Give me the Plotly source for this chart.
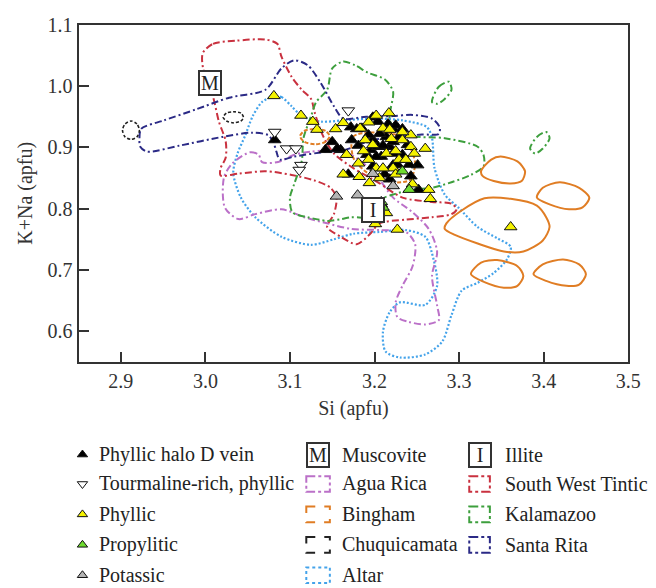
import plotly.graph_objects as go

# ---------------- data: field outlines (Si, K+Na) ----------------
agua_rica_si = [3.032, 3.053, 3.063, 3.067, 3.086, 3.105, 3.125, 3.144, 3.169, 3.187, 3.204, 3.222, 3.245, 3.264,
                3.274, 3.268, 3.274, 3.276, 3.260, 3.241, 3.227, 3.225, 3.233, 3.245, 3.248, 3.237, 3.206, 3.172,
                3.144, 3.117, 3.090, 3.059, 3.039, 3.023, 3.022]
agua_rica_kna = [0.874, 0.892, 0.888, 0.876, 0.876, 0.888, 0.893, 0.895, 0.890, 0.874, 0.851, 0.818, 0.794, 0.767,
                 0.730, 0.690, 0.642, 0.618, 0.611, 0.615, 0.623, 0.647, 0.674, 0.706, 0.742, 0.762, 0.765, 0.767,
                 0.776, 0.786, 0.799, 0.791, 0.783, 0.802, 0.851]

altar_si = [3.080, 3.090, 3.102, 3.114, 3.137, 3.163, 3.198, 3.233, 3.262, 3.268, 3.271, 3.283, 3.299, 3.322,
            3.346, 3.361, 3.357, 3.341, 3.322, 3.303, 3.291, 3.280, 3.260, 3.230, 3.213, 3.210, 3.218, 3.230,
            3.260, 3.274, 3.268, 3.260, 3.237, 3.206, 3.175, 3.152, 3.125, 3.090, 3.059, 3.042, 3.033, 3.038,
            3.047, 3.056, 3.067]
altar_kna = [0.983, 0.982, 0.967, 0.951, 0.942, 0.944, 0.947, 0.944, 0.933, 0.915, 0.866, 0.823, 0.802, 0.770,
             0.751, 0.738, 0.718, 0.695, 0.679, 0.666, 0.626, 0.583, 0.562, 0.557, 0.567, 0.599, 0.631, 0.647,
             0.643, 0.674, 0.727, 0.754, 0.765, 0.762, 0.759, 0.750, 0.741, 0.754, 0.786, 0.818, 0.858, 0.890,
             0.919, 0.951, 0.974]

sw_tintic_si = [2.997, 3.009, 3.036, 3.071, 3.085, 3.090, 3.102, 3.114, 3.125, 3.129, 3.138, 3.152, 3.175, 3.204,
                3.233, 3.268, 3.291, 3.297, 3.291, 3.268, 3.237, 3.206, 3.195, 3.179, 3.160, 3.144, 3.152, 3.155,
                3.148, 3.129, 3.102, 3.071, 3.039, 3.018, 3.018, 3.024, 3.024, 3.016, 3.009, 2.997]
sw_tintic_kna = [1.054, 1.069, 1.074, 1.076, 1.069, 1.048, 1.015, 0.994, 0.979, 0.958, 0.922, 0.890, 0.866, 0.843,
                 0.818, 0.811, 0.808, 0.799, 0.791, 0.786, 0.782, 0.776, 0.759, 0.742, 0.754, 0.770, 0.791, 0.818,
                 0.834, 0.846, 0.855, 0.861, 0.857, 0.854, 0.866, 0.883, 0.910, 0.942, 0.983, 1.031]

kalamazoo_si = [3.150, 3.163, 3.177, 3.192, 3.212, 3.222, 3.219, 3.218, 3.227, 3.245, 3.283, 3.322, 3.329, 3.329,
                3.314, 3.291, 3.268, 3.245, 3.222, 3.208, 3.204, 3.198, 3.172, 3.161, 3.144, 3.121, 3.103, 3.100,
                3.105, 3.114, 3.116, 3.125, 3.131, 3.144]
kalamazoo_kna = [1.029, 1.040, 1.034, 1.022, 1.011, 0.991, 0.962, 0.944, 0.927, 0.918, 0.915, 0.901, 0.887, 0.869,
                 0.855, 0.843, 0.834, 0.831, 0.823, 0.815, 0.797, 0.786, 0.786, 0.783, 0.780, 0.786, 0.794, 0.818,
                 0.840, 0.878, 0.915, 0.951, 0.974, 0.994]
kalamazoo_b_si = [3.268, 3.276, 3.288, 3.291, 3.283, 3.274]
kalamazoo_b_kna = [0.974, 0.999, 1.007, 0.994, 0.979, 0.971]
kalamazoo_c_si = [3.384, 3.392, 3.403, 3.407, 3.399, 3.390]
kalamazoo_c_kna = [0.898, 0.917, 0.925, 0.915, 0.898, 0.890]

santa_rita_si = [2.922, 2.924, 2.951, 2.989, 3.028, 3.071, 3.090, 3.105, 3.121, 3.136, 3.152, 3.163, 3.190, 3.222,
                 3.245, 3.268, 3.277, 3.276, 3.256, 3.233, 3.198, 3.163, 3.144, 3.105, 3.088, 3.084, 3.080, 3.074,
                 3.055, 3.020, 2.970, 2.931, 2.923]
santa_rita_kna = [0.912, 0.930, 0.944, 0.962, 0.981, 0.994, 1.029, 1.042, 1.034, 1.006, 0.967, 0.947, 0.950, 0.951,
                  0.953, 0.947, 0.933, 0.922, 0.921, 0.918, 0.912, 0.895, 0.893, 0.885, 0.880, 0.893, 0.910, 0.920,
                  0.924, 0.917, 0.903, 0.893, 0.901]

chuqui_a_si = [2.922, 2.919, 2.912, 2.905, 2.902, 2.905, 2.912, 2.919]
chuqui_a_kna = [0.928, 0.938, 0.943, 0.938, 0.928, 0.917, 0.913, 0.917]
chuqui_b_si = [3.045, 3.042, 3.033, 3.025, 3.021, 3.025, 3.033, 3.042]
chuqui_b_kna = [0.949, 0.956, 0.958, 0.956, 0.949, 0.943, 0.940, 0.943]

bingham_a_si = [3.147, 3.142, 3.130, 3.117, 3.112, 3.117, 3.130, 3.142]
bingham_a_kna = [0.918, 0.927, 0.930, 0.927, 0.918, 0.909, 0.905, 0.909]
bingham_b_si = [3.175, 3.222, 3.239, 3.248, 3.242, 3.222, 3.192, 3.175]
bingham_b_kna = [0.918, 0.922, 0.907, 0.874, 0.847, 0.843, 0.858, 0.883]
bingham_c_si = [3.326, 3.338, 3.349, 3.369, 3.378, 3.374, 3.361, 3.341, 3.328]
bingham_c_kna = [0.861, 0.880, 0.885, 0.877, 0.861, 0.845, 0.841, 0.845, 0.853]
bingham_d_si = [3.392, 3.399, 3.419, 3.442, 3.454, 3.446, 3.430, 3.407]
bingham_d_kna = [0.818, 0.834, 0.843, 0.834, 0.818, 0.802, 0.799, 0.807]
bingham_e_si = [3.285, 3.303, 3.330, 3.361, 3.392, 3.403, 3.407, 3.399, 3.376, 3.353, 3.322, 3.295, 3.283]
bingham_e_kna = [0.776, 0.797, 0.817, 0.816, 0.805, 0.786, 0.770, 0.748, 0.730, 0.730, 0.743, 0.757, 0.767]
bingham_f_si = [3.314, 3.326, 3.345, 3.369, 3.376, 3.369, 3.353, 3.330]
bingham_f_kna = [0.693, 0.712, 0.716, 0.706, 0.690, 0.674, 0.671, 0.680]
bingham_g_si = [3.388, 3.399, 3.423, 3.442, 3.450, 3.442, 3.427, 3.403]
bingham_g_kna = [0.693, 0.709, 0.717, 0.709, 0.693, 0.676, 0.674, 0.682]

# ---------------- data: analyses ----------------
halo_si = [3.198, 3.204, 3.172, 3.179, 3.185, 3.222, 3.214, 3.229, 3.173, 3.150, 3.160, 3.142, 3.181, 3.198,
           3.196, 3.204, 3.208, 3.218, 3.222, 3.233, 3.198, 3.212, 3.218, 3.222, 3.243, 3.251, 3.252, 3.169,
           3.193, 3.210, 3.082, 3.156, 3.216, 3.225, 3.233, 3.206, 3.222, 3.239, 3.191, 3.202, 3.227, 3.241]
halo_kna = [0.949, 0.942, 0.933, 0.930, 0.931, 0.930, 0.917, 0.917, 0.912, 0.909, 0.896, 0.896, 0.903, 0.912,
            0.896, 0.901, 0.885, 0.901, 0.890, 0.888, 0.869, 0.856, 0.848, 0.871, 0.853, 0.871, 0.831, 0.856,
            0.920, 0.903, 0.912, 0.898, 0.938, 0.936, 0.930, 0.922, 0.909, 0.904, 0.888, 0.885, 0.872, 0.872]

tourm_si = [3.169, 3.082, 3.096, 3.107, 3.113, 3.111]
tourm_kna = [0.960, 0.925, 0.898, 0.898, 0.871, 0.863]

phyllic_si = [3.113, 3.127, 3.132, 3.154, 3.163, 3.183, 3.202, 3.217, 3.210, 3.218, 3.189, 3.187, 3.167, 3.181,
              3.193, 3.202, 3.214, 3.225, 3.233, 3.243, 3.243, 3.247, 3.260, 3.229, 3.222, 3.225, 3.163, 3.182,
              3.210, 3.264, 3.266, 3.214, 3.208, 3.081, 3.201, 3.227, 3.361, 3.193, 3.233, 3.220, 3.198, 3.237,
              3.206, 3.194, 3.245]
phyllic_kna = [0.952, 0.942, 0.929, 0.930, 0.940, 0.931, 0.952, 0.956, 0.931, 0.929, 0.912, 0.894, 0.888, 0.874,
               0.880, 0.866, 0.890, 0.894, 0.912, 0.920, 0.901, 0.890, 0.898, 0.880, 0.866, 0.856, 0.856, 0.852,
               0.866, 0.831, 0.816, 0.793, 0.807, 0.984, 0.775, 0.766, 0.770, 0.941, 0.925, 0.914, 0.904, 0.880,
               0.850, 0.842, 0.840]

propylitic_si = [3.233, 3.208, 3.210, 3.241]
propylitic_kna = [0.861, 0.811, 0.802, 0.831]

potassic_si = [3.198, 3.222, 3.155, 3.180]
potassic_kna = [0.857, 0.837, 0.820, 0.822]

# reference minerals
ref_labels = ["M", "I"]
ref_si = [3.005, 3.198]
ref_kna = [1.005, 0.797]

# legend texts
sample_names = ["Phyllic halo D vein", "Tourmaline-rich, phyllic", "Phyllic", "Propylitic", "Potassic"]
field_names_a = ["Muscovite", "Agua Rica", "Bingham", "Chuquicamata", "Altar"]
field_names_b = ["Illite", "South West Tintic", "Kalamazoo", "Santa Rita"]

# ---------------- styles ----------------
FONT = "Liberation Serif"
C_AGUA = "#bb70c8"
C_BING = "#e07d24"
C_CHUQ = "#222222"
C_ALTAR = "#44a3ea"
C_SWT = "#c9313f"
C_KAL = "#3d9f3d"
C_SR = "#2b2a86"
DASHDOT = "7px,3px,2px,3px"
DASH = "4px,2px"
DOT = "2px,2px"

fig = go.Figure()


def loop(xs, ys):
    return list(xs) + [xs[0]], list(ys) + [ys[0]]


def add_field(loops, color, dash, width=2.0):
    xs, ys = [], []
    for lx, ly in loops:
        cx, cy = loop(lx, ly)
        xs += cx + [None]
        ys += cy + [None]
    fig.add_trace(go.Scatter(x=xs, y=ys, mode="lines", showlegend=False, hoverinfo="skip",
                             line=dict(color=color, width=width, dash=dash, shape="spline", smoothing=0.8),
                             xaxis="x", yaxis="y"))


add_field([(altar_si, altar_kna)], C_ALTAR, DOT, 2.2)
add_field([(agua_rica_si, agua_rica_kna)], C_AGUA, DASHDOT)
add_field([(sw_tintic_si, sw_tintic_kna)], C_SWT, DASHDOT)
add_field([(kalamazoo_si, kalamazoo_kna), (kalamazoo_b_si, kalamazoo_b_kna),
           (kalamazoo_c_si, kalamazoo_c_kna)], C_KAL, DASHDOT)
add_field([(santa_rita_si, santa_rita_kna)], C_SR, DASHDOT)
add_field([(bingham_a_si, bingham_a_kna), (bingham_b_si, bingham_b_kna)], C_BING, DASH)
add_field([(bingham_c_si, bingham_c_kna), (bingham_d_si, bingham_d_kna), (bingham_e_si, bingham_e_kna),
           (bingham_f_si, bingham_f_kna), (bingham_g_si, bingham_g_kna)], C_BING, "solid", 2.0)
add_field([(chuqui_a_si, chuqui_a_kna), (chuqui_b_si, chuqui_b_kna)], C_CHUQ, "3px,2px", 1.6)

MS = 11
marker_specs = [
    (halo_si, halo_kna, "triangle-up", "#000000"),
    (phyllic_si, phyllic_kna, "triangle-up", "#f4f200"),
    (propylitic_si, propylitic_kna, "triangle-up", "#6fdc2f"),
    (potassic_si, potassic_kna, "triangle-up", "#b4b4b4"),
    (tourm_si, tourm_kna, "triangle-down", "#ffffff"),
]
for xs, ys, sym, col in marker_specs:
    fig.add_trace(go.Scatter(x=xs, y=ys, mode="markers", showlegend=False, hoverinfo="skip",
                             marker=dict(symbol=sym, size=MS, color=col, line=dict(color="#111", width=1)),
                             xaxis="x", yaxis="y"))

# reference minerals as boxed letters
for lab, sx, ky in zip(ref_labels, ref_si, ref_kna):
    fig.add_annotation(x=sx, y=ky, xref="x", yref="y", text=lab, showarrow=False,
                       font=dict(family=FONT, size=20, color="#222"),
                       bgcolor="white", bordercolor="#333", borderwidth=2, borderpad=0,
                       width=20, height=22)

# ---------------- legend (drawn on a pixel overlay axis) ----------------
rows = [452, 482, 513, 544, 575]
LEG_FS = 20
legend_markers = [("triangle-up", "#000000"), ("triangle-down", "#ffffff"), ("triangle-up", "#f4f200"),
                  ("triangle-up", "#6fdc2f"), ("triangle-up", "#b4b4b4")]
for (sym, col), ry, name in zip(legend_markers, rows, sample_names):
    fig.add_trace(go.Scatter(x=[84], y=[ry], mode="markers", showlegend=False, hoverinfo="skip",
                             marker=dict(symbol=sym, size=9, color=col, line=dict(color="#111", width=1)),
                             xaxis="x2", yaxis="y2"))
    fig.add_annotation(x=99, y=ry, xref="x2", yref="y2", text=name, showarrow=False, xanchor="left",
                       font=dict(family=FONT, size=LEG_FS, color="#222"))

col2_styles = [None, (C_AGUA, "dashdot"), (C_BING, "dash"), (C_CHUQ, "dash"), (C_ALTAR, "dot")]
col3_styles = [None, (C_SWT, "dashdot"), (C_KAL, "dashdot"), (C_SR, "dashdot")]
for styles, names, bx0, bx1, tx, letter in [(col2_styles, field_names_a, 312, 336, 346, "M"),
                                            (col3_styles, field_names_b, 478, 499, 512, "I")]:
    for st, ry, name in zip(styles, rows, names):
        if st is None:
            fig.add_annotation(x=(bx0 + bx1) / 2, y=ry, xref="x2", yref="y2", text=letter, showarrow=False,
                               font=dict(family=FONT, size=20, color="#222"),
                               bgcolor="white", bordercolor="#333", borderwidth=2, borderpad=0,
                               width=20, height=22)
        else:
            fig.add_shape(type="rect", x0=bx0, x1=bx1, y0=ry - 8, y1=ry + 8, xref="x2", yref="y2",
                          line=dict(color=st[0], width=2, dash=st[1]))
        fig.add_annotation(x=tx, y=ry, xref="x2", yref="y2", text=name, showarrow=False, xanchor="left",
                           font=dict(family=FONT, size=LEG_FS, color="#222"))

W, H = 656, 588
axis_common = dict(showline=True, linecolor="#333", linewidth=2, mirror=True, ticks="inside",
                   ticklen=10, tickcolor="#333", tickwidth=1.5, showgrid=False, zeroline=False,
                   tickfont=dict(family=FONT, size=20, color="#333"), tickformat=".1f")
fig.update_layout(
    width=W, height=H, margin=dict(l=0, r=0, t=0, b=0),
    paper_bgcolor="white", plot_bgcolor="rgba(0,0,0,0)", showlegend=False,
    font=dict(family=FONT),
    xaxis=dict(domain=[80 / W, 640 / W], range=[2.85, 3.5001], dtick=0.1, tick0=2.9, anchor="y",
               title=dict(text="Si (apfu)", font=dict(family=FONT, size=20, color="#333"), standoff=10),
               **axis_common),
    yaxis=dict(domain=[1 - 357.5 / H, 1 - 14 / H], range=[0.55, 1.1001], dtick=0.1, tick0=0.6, anchor="x",
               title=dict(text="K+Na (apfu)", font=dict(family=FONT, size=20, color="#333"), standoff=10),
               **axis_common),
    xaxis2=dict(domain=[0, 1], range=[0, W], visible=False, anchor="y2", fixedrange=True),
    yaxis2=dict(domain=[0, 1], range=[H, 0], visible=False, anchor="x2", fixedrange=True),
)

fig.write_html("out.html")
